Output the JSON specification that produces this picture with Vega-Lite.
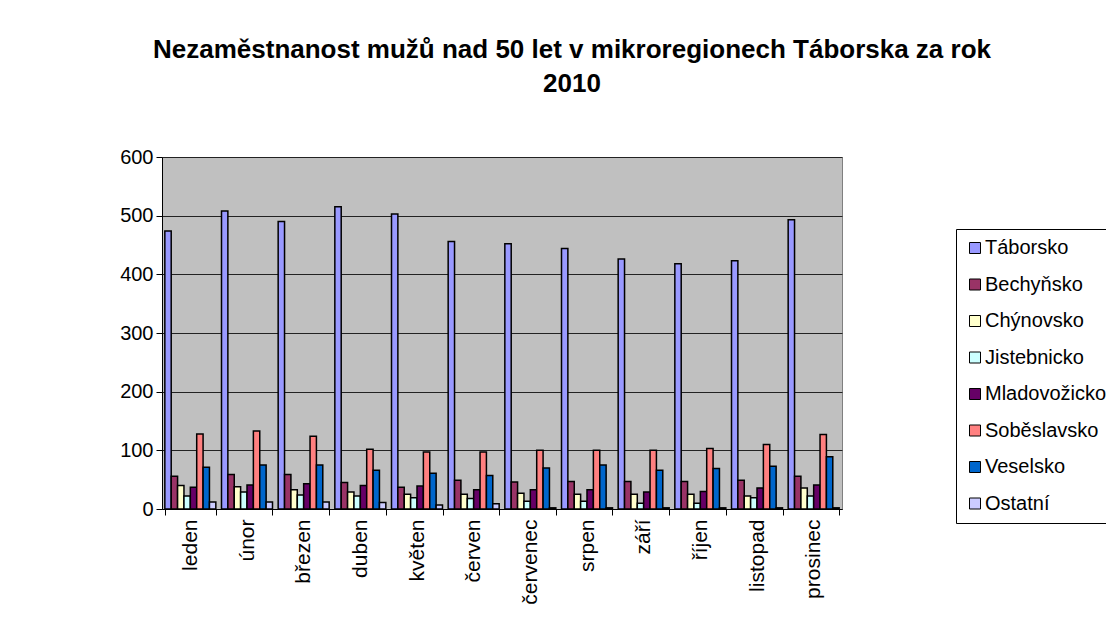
{
  "$schema": "https://vega.github.io/schema/vega-lite/v6.json",
  "width": 680,
  "height": 352,
  "autosize": {"type": "none"},
  "padding": {"left": 162, "top": 157, "right": 264, "bottom": 112},
  "background": "white",
  "title": {
    "text": ["Nezaměstnanost mužů nad 50 let v mikroregionech Táborska za rok", "2010"],
    "fontSize": 26,
    "fontWeight": "bold",
    "font": "Liberation Sans",
    "anchor": "middle",
    "frame": "group",
    "dx": 70,
    "offset": 50,
    "lineHeight": 34,
    "color": "black"
  },
  "data": {
    "values": [
      {"mesic": "leden", "region": "Táborsko", "pocet": 474},
      {"mesic": "leden", "region": "Bechyňsko", "pocet": 56},
      {"mesic": "leden", "region": "Chýnovsko", "pocet": 40},
      {"mesic": "leden", "region": "Jistebnicko", "pocet": 22},
      {"mesic": "leden", "region": "Mladovožicko", "pocet": 37},
      {"mesic": "leden", "region": "Soběslavsko", "pocet": 128},
      {"mesic": "leden", "region": "Veselsko", "pocet": 71},
      {"mesic": "leden", "region": "Ostatní", "pocet": 12},

      {"mesic": "únor", "region": "Táborsko", "pocet": 508},
      {"mesic": "únor", "region": "Bechyňsko", "pocet": 59},
      {"mesic": "únor", "region": "Chýnovsko", "pocet": 38},
      {"mesic": "únor", "region": "Jistebnicko", "pocet": 29},
      {"mesic": "únor", "region": "Mladovožicko", "pocet": 41},
      {"mesic": "únor", "region": "Soběslavsko", "pocet": 133},
      {"mesic": "únor", "region": "Veselsko", "pocet": 75},
      {"mesic": "únor", "region": "Ostatní", "pocet": 12},

      {"mesic": "březen", "region": "Táborsko", "pocet": 490},
      {"mesic": "březen", "region": "Bechyňsko", "pocet": 59},
      {"mesic": "březen", "region": "Chýnovsko", "pocet": 33},
      {"mesic": "březen", "region": "Jistebnicko", "pocet": 24},
      {"mesic": "březen", "region": "Mladovožicko", "pocet": 43},
      {"mesic": "březen", "region": "Soběslavsko", "pocet": 124},
      {"mesic": "březen", "region": "Veselsko", "pocet": 75},
      {"mesic": "březen", "region": "Ostatní", "pocet": 12},

      {"mesic": "duben", "region": "Táborsko", "pocet": 515},
      {"mesic": "duben", "region": "Bechyňsko", "pocet": 45},
      {"mesic": "duben", "region": "Chýnovsko", "pocet": 29},
      {"mesic": "duben", "region": "Jistebnicko", "pocet": 22},
      {"mesic": "duben", "region": "Mladovožicko", "pocet": 40},
      {"mesic": "duben", "region": "Soběslavsko", "pocet": 102},
      {"mesic": "duben", "region": "Veselsko", "pocet": 66},
      {"mesic": "duben", "region": "Ostatní", "pocet": 11},

      {"mesic": "květen", "region": "Táborsko", "pocet": 503},
      {"mesic": "květen", "region": "Bechyňsko", "pocet": 37},
      {"mesic": "květen", "region": "Chýnovsko", "pocet": 25},
      {"mesic": "květen", "region": "Jistebnicko", "pocet": 19},
      {"mesic": "květen", "region": "Mladovožicko", "pocet": 39},
      {"mesic": "květen", "region": "Soběslavsko", "pocet": 97},
      {"mesic": "květen", "region": "Veselsko", "pocet": 61},
      {"mesic": "květen", "region": "Ostatní", "pocet": 7},

      {"mesic": "červen", "region": "Táborsko", "pocet": 456},
      {"mesic": "červen", "region": "Bechyňsko", "pocet": 49},
      {"mesic": "červen", "region": "Chýnovsko", "pocet": 25},
      {"mesic": "červen", "region": "Jistebnicko", "pocet": 18},
      {"mesic": "červen", "region": "Mladovožicko", "pocet": 33},
      {"mesic": "červen", "region": "Soběslavsko", "pocet": 97},
      {"mesic": "červen", "region": "Veselsko", "pocet": 57},
      {"mesic": "červen", "region": "Ostatní", "pocet": 9},

      {"mesic": "červenec", "region": "Táborsko", "pocet": 452},
      {"mesic": "červenec", "region": "Bechyňsko", "pocet": 46},
      {"mesic": "červenec", "region": "Chýnovsko", "pocet": 27},
      {"mesic": "červenec", "region": "Jistebnicko", "pocet": 13},
      {"mesic": "červenec", "region": "Mladovožicko", "pocet": 33},
      {"mesic": "červenec", "region": "Soběslavsko", "pocet": 100},
      {"mesic": "červenec", "region": "Veselsko", "pocet": 70},
      {"mesic": "červenec", "region": "Ostatní", "pocet": 2},

      {"mesic": "srpen", "region": "Táborsko", "pocet": 444},
      {"mesic": "srpen", "region": "Bechyňsko", "pocet": 47},
      {"mesic": "srpen", "region": "Chýnovsko", "pocet": 25},
      {"mesic": "srpen", "region": "Jistebnicko", "pocet": 13},
      {"mesic": "srpen", "region": "Mladovožicko", "pocet": 33},
      {"mesic": "srpen", "region": "Soběslavsko", "pocet": 100},
      {"mesic": "srpen", "region": "Veselsko", "pocet": 75},
      {"mesic": "srpen", "region": "Ostatní", "pocet": 2},

      {"mesic": "září", "region": "Táborsko", "pocet": 426},
      {"mesic": "září", "region": "Bechyňsko", "pocet": 47},
      {"mesic": "září", "region": "Chýnovsko", "pocet": 25},
      {"mesic": "září", "region": "Jistebnicko", "pocet": 10},
      {"mesic": "září", "region": "Mladovožicko", "pocet": 29},
      {"mesic": "září", "region": "Soběslavsko", "pocet": 100},
      {"mesic": "září", "region": "Veselsko", "pocet": 66},
      {"mesic": "září", "region": "Ostatní", "pocet": 2},

      {"mesic": "říjen", "region": "Táborsko", "pocet": 418},
      {"mesic": "říjen", "region": "Bechyňsko", "pocet": 47},
      {"mesic": "říjen", "region": "Chýnovsko", "pocet": 25},
      {"mesic": "říjen", "region": "Jistebnicko", "pocet": 10},
      {"mesic": "říjen", "region": "Mladovožicko", "pocet": 30},
      {"mesic": "říjen", "region": "Soběslavsko", "pocet": 103},
      {"mesic": "říjen", "region": "Veselsko", "pocet": 69},
      {"mesic": "říjen", "region": "Ostatní", "pocet": 2},

      {"mesic": "listopad", "region": "Táborsko", "pocet": 423},
      {"mesic": "listopad", "region": "Bechyňsko", "pocet": 49},
      {"mesic": "listopad", "region": "Chýnovsko", "pocet": 22},
      {"mesic": "listopad", "region": "Jistebnicko", "pocet": 19},
      {"mesic": "listopad", "region": "Mladovožicko", "pocet": 36},
      {"mesic": "listopad", "region": "Soběslavsko", "pocet": 110},
      {"mesic": "listopad", "region": "Veselsko", "pocet": 73},
      {"mesic": "listopad", "region": "Ostatní", "pocet": 2},

      {"mesic": "prosinec", "region": "Táborsko", "pocet": 493},
      {"mesic": "prosinec", "region": "Bechyňsko", "pocet": 56},
      {"mesic": "prosinec", "region": "Chýnovsko", "pocet": 36},
      {"mesic": "prosinec", "region": "Jistebnicko", "pocet": 22},
      {"mesic": "prosinec", "region": "Mladovožicko", "pocet": 41},
      {"mesic": "prosinec", "region": "Soběslavsko", "pocet": 127},
      {"mesic": "prosinec", "region": "Veselsko", "pocet": 89},
      {"mesic": "prosinec", "region": "Ostatní", "pocet": 2}
    ]
  },
  "mark": {"type": "bar", "stroke": "black", "strokeWidth": 1.5},
  "encoding": {
    "x": {
      "field": "mesic",
      "type": "nominal",
      "sort": ["leden", "únor", "březen", "duben", "květen", "červen", "červenec", "srpen", "září", "říjen", "listopad", "prosinec"],
      "scale": {"paddingInner": 0.1, "paddingOuter": 0.05},
      "axis": {
        "title": null,
        "labelAngle": -90,
        "labelAlign": "right",
        "labelBaseline": "middle",
        "labelFontSize": 21,
        "labelPadding": 4,
        "labelColor": "black",
        "tickBand": "extent",
        "tickColor": "black",
        "tickSize": 6,
        "domainColor": "black",
        "domainWidth": 1
      }
    },
    "xOffset": {
      "field": "region",
      "type": "nominal",
      "sort": ["Táborsko", "Bechyňsko", "Chýnovsko", "Jistebnicko", "Mladovožicko", "Soběslavsko", "Veselsko", "Ostatní"],
      "scale": {"paddingInner": 0, "paddingOuter": 0}
    },
    "y": {
      "field": "pocet",
      "type": "quantitative",
      "scale": {"domain": [0, 600], "nice": false},
      "axis": {
        "title": null,
        "values": [0, 100, 200, 300, 400, 500, 600],
        "labelFontSize": 20,
        "labelColor": "black",
        "labelPadding": 3,
        "tickColor": "black",
        "tickSize": 6,
        "domainColor": "black",
        "gridColor": "#222222",
        "gridWidth": 1
      }
    },
    "color": {
      "field": "region",
      "type": "nominal",
      "scale": {
        "domain": ["Táborsko", "Bechyňsko", "Chýnovsko", "Jistebnicko", "Mladovožicko", "Soběslavsko", "Veselsko", "Ostatní"],
        "range": ["#9999FF", "#993366", "#FFFFCC", "#CCFFFF", "#660066", "#FF8080", "#0066CC", "#CCCCFF"]
      },
      "legend": {
        "title": null,
        "orient": "none",
        "legendX": 794,
        "legendY": 72,
        "symbolType": "square",
        "symbolSize": 121,
        "symbolStrokeColor": "black",
        "symbolStrokeWidth": 1,
        "symbolOpacity": 1,
        "labelFontSize": 20,
        "labelColor": "black",
        "labelOffset": 0,
        "labelLimit": 400,
        "rowPadding": 16.5,
        "padding": 9,
        "strokeColor": "black",
        "fillColor": "white"
      }
    }
  },
  "config": {
    "font": "Liberation Sans",
    "view": {"fill": "#C0C0C0", "stroke": "#808080"}
  }
}
